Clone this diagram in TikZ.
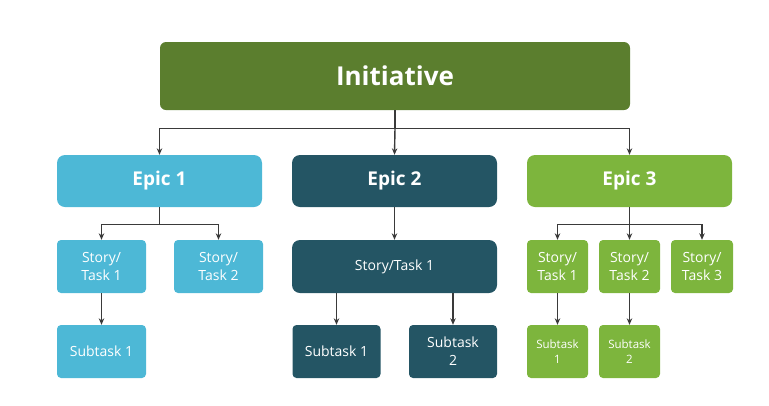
\documentclass[tikz,border=0pt]{standalone}
\usepackage{fontspec}
\setmainfont{Open Sans}
\usepackage{tikz}
\usetikzlibrary{arrows.meta}
\definecolor{initgreen}{HTML}{5B7E2E}
\definecolor{epicblue}{HTML}{4DB8D6}
\definecolor{epicteal}{HTML}{245564}
\definecolor{epicgreen}{HTML}{7DB53D}
\definecolor{arrgray}{HTML}{3A3A3A}

\begin{document}
\begin{tikzpicture}[
  x=1pt, y=-1pt,
  box/.style={rounded corners=4pt, text=white, align=center, inner sep=0pt, minimum height=53pt, font=\fontsize{14}{18}\selectfont},
  epicbox/.style={box, rounded corners=8pt, minimum width=205pt, minimum height=52pt, font=\fontsize{19}{22}\selectfont\bfseries},
  narrow/.style={box, minimum width=61pt},
  tiny/.style={narrow, font=\fontsize{11.5}{15}\selectfont},
  arr/.style={->, line width=1.4pt, arrgray, >={Stealth[length=6.5pt, width=5.5pt]}},
  ln/.style={line width=1.4pt, arrgray},
]
\useasboundingbox (0,0) rectangle (769,405);

% ── Initiative ──
\node[box, fill=initgreen, rounded corners=6pt, minimum width=470pt, minimum height=68pt,
  font=\fontsize{26}{30}\selectfont\bfseries] (init) at (395,76) {Initiative};

% ── Epics ──
\node[epicbox, fill=epicblue] (e1) at (159.5,181) {Epic 1};
\node[epicbox, fill=epicteal] (e2) at (394.5,181) {Epic 2};
\node[epicbox, fill=epicgreen] (e3) at (629.5,181) {Epic 3};

% ── Epic 1 branch ──
\node[box, fill=epicblue, minimum width=89pt] (s11) at (101.5,266.5) {Story/\\Task 1};
\node[box, fill=epicblue, minimum width=89pt] (s12) at (218.5,266.5) {Story/\\Task 2};
\node[box, fill=epicblue, minimum width=89pt] (sub11) at (101.5,351.5) {Subtask 1};

% ── Epic 2 branch ──
\node[box, fill=epicteal, rounded corners=8pt, minimum width=205pt] (s21) at (394.5,266.5) {Story/Task 1};
\node[box, fill=epicteal, minimum width=88pt] (sub21) at (336.5,351.5) {Subtask 1};
\node[box, fill=epicteal, minimum width=88pt, text depth=-10pt] (sub22) at (453,351.5) {Subtask\\2};

% ── Epic 3 branch ──
\node[narrow, fill=epicgreen] (s31) at (557.5,266.5) {Story/\\Task 1};
\node[narrow, fill=epicgreen] (s32) at (629.5,266.5) {Story/\\Task 2};
\node[narrow, fill=epicgreen, minimum width=62pt] (s33) at (702,266.5) {Story/\\Task 3};
\node[tiny, fill=epicgreen] (sub31) at (557.5,351.5) {Subtask\\1};
\node[tiny, fill=epicgreen] (sub32) at (629.5,351.5) {Subtask\\2};

% ── Arrows ──
\draw[ln] (init.south) -- ++(0,18) coordinate (ib);
\draw[arr] (ib) -| (e1.north);
\draw[arr] (ib) -- (e2.north);
\draw[arr] (ib) -| (e3.north);

\draw[ln] (e1.south) -- ++(0,17) coordinate (b1);
\draw[arr] (b1) -| (s11.north);
\draw[arr] (b1) -| (s12.north);
\draw[arr] (s11.south) -- (sub11.north);

\draw[arr] (e2.south) -- (s21.north);
\draw[arr] (sub21.north |- s21.south) -- (sub21.north);
\draw[arr] (sub22.north |- s21.south) -- (sub22.north);

\draw[ln] (e3.south) -- ++(0,17) coordinate (b3);
\draw[arr] (b3) -| (s31.north);
\draw[arr] (b3) -- (s32.north);
\draw[arr] (b3) -| (s33.north);
\draw[arr] (s31.south) -- (sub31.north);
\draw[arr] (s32.south) -- (sub32.north);

\end{tikzpicture}
\end{document}
